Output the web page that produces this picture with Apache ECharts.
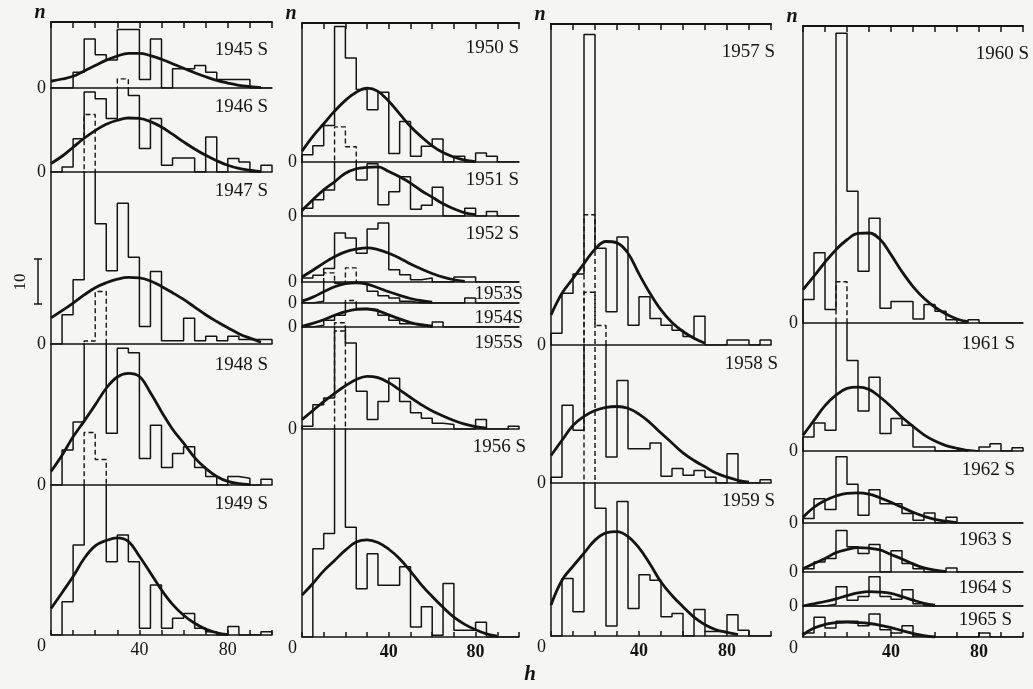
<!DOCTYPE html>
<html><head><meta charset="utf-8">
<script src="https://cdn.jsdelivr.net/npm/echarts@6/dist/echarts.min.js"></script>
<style>html,body{margin:0;padding:0;background:#f5f5f3}#c{width:1033px;height:689px}</style>
</head><body><div id="c"></div><script>
// ---------- data ----------
const binEdges = [0,5,10,15,20,25,30,35,40,45,50,55,60,65,70,75,80,85,90,95,100];
const curveH   = [0,5,10,15,20,25,30,35,40,45,50,55,60,65,70,75,80,85,90,95,100];
const xTickLabels = [40, 80];

const hist1945 = [0,0,3.5,10.9,7.4,6.2,13,13,1.9,10.9,0,4.3,4.3,5,3.5,1.9,1.9,1.9,0,0];
const curve1945 = [1.5,2.0,2.6,3.8,5.0,6.2,7.1,7.7,7.7,7.2,6.4,5.4,4.4,3.4,2.5,1.7,1.1,0.6,0.3,0.1];
const hist1946 = [0,1.1,7.4,17.8,16.3,11.9,20.7,17,5.2,11.9,1.5,3.1,3.1,0,7.8,0,3.0,2.2,0,1.5];
const curve1946 = [1.9,3.5,5.5,7.5,9.2,10.6,11.5,12,11.9,11.2,10,8.4,6.7,5.1,3.7,2.5,1.5,0.8,0.4,0.1];
const hist1947 = [0,6.5,14.3,51,26.7,16.3,31.3,19.3,3.9,16.1,0.7,0.7,5.7,0.7,1.7,0.7,1.7,1.0,1.0,1.0];
const curve1947 = [5.8,7.4,9.1,10.9,12.5,13.6,14.4,14.8,14.7,14,12.8,11.4,9.9,8.2,6.5,5,3.6,2.3,1.3,0.4];
const hist1948 = [0,7.8,14,32,43,11.5,30.4,29.4,5.9,13.3,3.9,7,8.5,3.9,1.9,0,1.9,1.5,0,1.3];
const curve1948 = [3.0,6.6,10.7,14.2,17.8,21.5,24,24.8,24.1,20.5,16.3,12.4,9.3,6.1,3.7,1.9,0.8,0.3,0.1];
const hist1949 = [0,7.4,20,45,39,16.3,22.2,16.3,1.5,11.1,1.5,3.7,4.8,1.5,0.7,0,1.9,0,0,0.7];
const curve1949 = [5.9,9.4,13,17,19.8,21,21.6,20.8,17.5,13.8,10,6.8,4.4,2.6,1.3,0.5,0.1];

const hist1950 = [1.6,3.6,8.1,30.1,23.1,16.1,11.6,15.5,1.9,9,1.3,3.5,5.1,0,1.3,0,2,1.3,0,0];
const curve1950 = [2.4,5.7,8.5,11.3,13.7,15.5,16.4,15.7,13.5,10.7,7.9,5.6,3.6,2.1,1.1,0.4,0.1];
const hist1951 = [1.7,3.6,5.8,19.8,15.4,8,11.6,2.5,5.4,8.7,1.5,2.4,6.4,0,0,1.7,0,1,0,0];
const curve1951 = [1.2,3.6,5.8,7.6,9.5,10.5,10.8,10.9,9.9,8.7,7.3,5.6,4.2,2.7,1.6,0.7,0.3];
const hist1952 = [0.9,1.5,3,10.9,9.8,6.4,11.8,13.1,2.7,1.6,0.5,0.9,0,0,1.1,1.1,0,0,0,0];
const curve1952 = [1.1,2.6,4.2,5.6,6.7,7.3,7.6,7.2,6.4,5.3,4,2.9,1.9,1.1,0.5,0.15];
const hist1953 = [0,0.4,6.7,4.4,7.8,4.4,2.6,1.6,1.1,0.4,0,0,0,0,0,1.1,0,0,0,0];
const curve1953 = [0.4,1.3,2.5,3.6,4.3,4.5,4.2,3.4,2.5,1.7,1,0.5,0.2];
const hist1954 = [0,0.4,1.5,2.6,5.9,4.1,3.9,2.6,1.5,0.7,0.4,0,1.1,0,0,0,0,0,0,0];
const curve1954 = [0.15,0.8,1.6,2.6,3.4,3.9,4,3.6,2.7,1.8,1,0.5,0.2];
const hist1955 = [0.6,5.4,6.9,23.6,19.1,8.4,2.1,6.1,11.3,6.1,3.6,2.4,1.3,1,0,0,2.1,0,0,0.6];
const curve1955 = [2.1,4.1,6.1,7.9,9.6,11.0,11.7,11.4,10.3,8.7,7.0,5.4,4.0,2.9,1.9,1.1,0.5,0.2];
const hist1956 = [0,19.6,23,68,24.4,10.7,18.5,11.5,11.5,15.6,2.2,6.7,0.4,11.9,1.5,1.5,3.3,0,0,0];
const curve1956 = [9.3,11.9,14.7,17,19.3,21.1,21.6,21,19.5,17.4,14.6,11.6,9,6.6,4.4,2.8,1.6,0.7,0.2];

const hist1957 = [2.6,11.5,15.8,69,21.5,7.4,24,4.4,10.7,5.9,4.4,3.3,1.9,6.4,0,0,1.1,1.1,0,1.1];
const curve1957 = [6.7,11.5,14.8,18.1,21.3,23,22.7,20.4,15.8,11.5,7.8,5,3,1.5,0.4];
const hist1958 = [1.3,17.3,11.7,42.4,35,5.8,22.8,7.6,7.6,8.9,1.5,3.2,1.7,2.8,1.3,0,6.5,0,0,0.7];
const curve1958 = [6.1,9.5,12.8,14.8,16.1,16.8,17,16.6,15.3,13.4,11.1,8.9,6.7,5,3.6,2.2,1.3,0.6,0.2];
const hist1959 = [0,12.8,5.4,93.6,28.4,2.2,29.9,6.1,13.6,12.4,4.3,5,0,5.9,1,1,4.7,1.3,0,0];
const curve1959 = [6.9,12.4,15.5,18.4,21.3,22.9,23.2,22.1,19.6,16,12,9,6.5,4.2,2.5,1.4,0.8,0.3];

const hist1960 = [5.2,15.6,3,64.4,29.3,11.5,23.3,3.3,4.8,4.8,0.9,4.1,2.6,0.7,0,0.7,0,0,0,0];
const curve1960 = [7.4,10.4,13.5,16.3,18.5,19.9,20.0,18.6,15.2,11.4,8.1,5.5,3.5,2.0,0.9,0.3];
const hist1961 = [3.1,6.2,4.6,37.6,20.1,8.9,16.4,3.9,7.2,5.7,0.9,0.9,0,0,0.3,0,0.9,1.6,0,0.7];
const curve1961 = [3.5,6.8,10.1,12.4,13.9,14.2,13.7,12,9.9,7.5,5.5,3.6,2.2,1.2,0.6,0.1];
const hist1962 = [1,5.4,3,14.7,8.6,1.7,7.4,4.3,4.3,2.1,0.6,2.2,0,1.3,0,0,0,0,0,0];
const curve1962 = [1.3,3.5,5,6,6.6,6.7,6.4,5.6,4.6,3.5,2.4,1.5,0.8,0.4,0.1];
const hist1963 = [0.7,2.2,3,9.2,5.6,4.1,6.1,0,4.7,1.9,0.7,0,0,0.9,0,0,0,0,0,0];
const curve1963 = [0.7,1.9,3,4.3,5,5.4,5.3,4.9,3.9,2.9,1.8,0.9,0.4,0.1];
const hist1964 = [0,0,0.4,4.3,1.3,2.1,6.5,2.1,1.5,3.6,0.5,0,0,0,0,0,0,0,0,0];
const curve1964 = [0,0.5,1,1.6,2.3,2.9,3.2,3.1,2.8,2.1,1.3,0.6,0.2];
const hist1965 = [0.9,4.4,2,3.5,3.5,2.5,5.1,1.6,0.9,2.5,0.2,0,0,0,0,0,0.9,0,0,0];
const curve1965 = [0.5,2,2.8,3.2,3.3,3.2,3,2.6,2.1,1.4,0.8,0.3,0];

// ---------- layout ----------
const PX_PER_N = 4.5;
const INK = '#141414';
const SERIF = '"Liberation Serif","DejaVu Serif",serif';
const columns = [
  {left:51, width:221, top:22, labelRight:268, panels:[
    {name:'1945 S', base:88,  labelY:50,  hist:hist1945, curve:curve1945},
    {name:'1946 S', base:172, labelY:107, hist:hist1946, curve:curve1946},
    {name:'1947 S', base:344, labelY:191, hist:hist1947, curve:curve1947},
    {name:'1948 S', base:485, labelY:365, hist:hist1948, curve:curve1948},
    {name:'1949 S', base:635, labelY:504, hist:hist1949, curve:curve1949}]},
  {left:302, width:217, top:23, labelRight:519, panels:[
    {name:'1950 S', base:162, labelY:48,  hist:hist1950, curve:curve1950},
    {name:'1951 S', base:216, labelY:180, hist:hist1951, curve:curve1951},
    {name:'1952 S', base:282, labelY:234, hist:hist1952, curve:curve1952},
    {name:'1953S',  base:303, labelY:294, hist:hist1953, curve:curve1953, right:523},
    {name:'1954S',  base:327, labelY:318, hist:hist1954, curve:curve1954, right:523},
    {name:'1955S',  base:429, labelY:343, hist:hist1955, curve:curve1955, right:523},
    {name:'1956 S', base:637, labelY:447, hist:hist1956, curve:curve1956, right:526}]},
  {left:551, width:220, top:24, labelRight:775, panels:[
    {name:'1957 S', base:345, labelY:52,  hist:hist1957, curve:curve1957},
    {name:'1958 S', base:483, labelY:364, hist:hist1958, curve:curve1958, right:778},
    {name:'1959 S', base:636, labelY:501, hist:hist1959, curve:curve1959}]},
  {left:803, width:220, top:26, labelRight:1029, panels:[
    {name:'1960 S', base:323, labelY:54,  hist:hist1960, curve:curve1960},
    {name:'1961 S', base:451, labelY:344, hist:hist1961, curve:curve1961, right:1015},
    {name:'1962 S', base:523, labelY:470, hist:hist1962, curve:curve1962, right:1015},
    {name:'1963 S', base:572, labelY:540, hist:hist1963, curve:curve1963, right:1012},
    {name:'1964 S', base:606, labelY:588, hist:hist1964, curve:curve1964, right:1012},
    {name:'1965 S', base:637, labelY:620, hist:hist1965, curve:curve1965, right:1012}]}
];

function histPoints(v){
  const p = [[binEdges[0], 0]];
  for (let i = 0; i < v.length; i++) p.push([binEdges[i], v[i]]);
  p.push([binEdges[v.length], v[v.length-1]]);
  p.push([binEdges[v.length], 0]);
  return p;
}
function curvePoints(c){ return c.map((y,i)=>[curveH[i], y]); }

const grids=[], xAxes=[], yAxes=[], series=[], graphics=[];
const lbl = {color:INK, fontFamily:SERIF, fontSize:18};

columns.forEach((col, ci)=>{
  col.panels.forEach((p,k)=>{
    const upper = k===0 ? col.top : col.panels[k-1].base;
    const h = p.base - upper;
    const isBottom = k===col.panels.length-1;
    const g = grids.length;
    grids.push({left:col.left, width:col.width, top:upper, height:h});
    const xi = xAxes.length;
    xAxes.push({gridIndex:g, type:'value', min:0, max:100, interval:10,
      axisLine:{show:true, onZero:false, lineStyle:{color:INK, width:1.5}},
      axisTick:{show:isBottom, inside:true, length:5, lineStyle:{color:INK, width:1.5}},
      axisLabel:{show:isBottom, customValues:xTickLabels, margin:6, ...lbl, fontWeight: ci>0?'bold':'normal'},
      splitLine:{show:false}});
    if (k===0) {
      xAxes.push({gridIndex:g, type:'value', position:'top', min:0, max:100, interval:10,
        axisLine:{show:true, onZero:false, lineStyle:{color:INK, width:2}},
        axisTick:{show:true, inside:true, length:6, lineStyle:{color:INK, width:1.5}},
        axisLabel:{show:false}, splitLine:{show:false}});
    }
    const yi = yAxes.length;
    yAxes.push({gridIndex:g, type:'value', min:0, max:h/PX_PER_N,
      axisLine:{show:true, lineStyle:{color:INK, width:1.5}},
      axisTick:{show:false}, splitLine:{show:false},
      axisLabel:{customValues:[0], margin:5, ...lbl,
        verticalAlign: isBottom ? 'top' : 'middle',
        padding: isBottom ? [2,0,0,0] : [0,0,8,0]}});
    series.push({type:'line', xAxisIndex:xi, yAxisIndex:yi, data:histPoints(p.hist), step:'end',
      symbol:'none', clip:true, silent:true, lineStyle:{color:INK, width:1.5}});
    series.push({type:'line', xAxisIndex:xi, yAxisIndex:yi, data:curvePoints(p.curve), smooth:0.4,
      symbol:'none', clip:true, silent:true, lineStyle:{color:INK, width:2.8}});
    if (k>0) {
      const g2 = grids.length;
      grids.push({left:col.left, width:col.width, top:col.top, height:upper-col.top});
      const xi2 = xAxes.length, yi2 = yAxes.length;
      xAxes.push({gridIndex:g2, type:'value', min:0, max:100, show:false});
      yAxes.push({gridIndex:g2, type:'value', min:(p.base-upper)/PX_PER_N, max:(p.base-col.top)/PX_PER_N, show:false});
      series.push({type:'line', xAxisIndex:xi2, yAxisIndex:yi2, data:histPoints(p.hist), step:'end',
        symbol:'none', clip:true, silent:true, lineStyle:{color:INK, width:1.4, type:[5,3]}});
    }
    graphics.push({type:'text', x:(p.right||col.labelRight), y:p.labelY,
      style:{text:p.name, fill:INK, font:'19px '+SERIF, align:'right', verticalAlign:'middle'}});
  });
  graphics.push({type:'text', x:col.left-11, y:col.top-9,
    style:{text:'n', fill:INK, font:'italic bold 20px '+SERIF, align:'center', verticalAlign:'middle'}});
});
graphics.push({type:'text', x:530, y:675, style:{text:'h', fill:INK, font:'italic bold 21px '+SERIF, align:'center', verticalAlign:'middle'}});
// scale bar "10"
graphics.push({type:'line', shape:{x1:38,y1:259,x2:38,y2:304}, style:{stroke:INK, lineWidth:1.5}});
graphics.push({type:'line', shape:{x1:34,y1:259,x2:42,y2:259}, style:{stroke:INK, lineWidth:1.5}});
graphics.push({type:'line', shape:{x1:34,y1:304,x2:42,y2:304}, style:{stroke:INK, lineWidth:1.5}});
graphics.push({type:'text', x:21, y:282, rotation:Math.PI/2,
  style:{text:'10', fill:INK, font:'17px '+SERIF, align:'center', verticalAlign:'middle'}});

const chart = echarts.init(document.getElementById('c'), null, {renderer:'canvas'});
chart.setOption({
  backgroundColor:'#f5f5f3', animation:false,
  grid:grids, xAxis:xAxes, yAxis:yAxes, series:series, graphic:graphics
});
</script></body></html>
